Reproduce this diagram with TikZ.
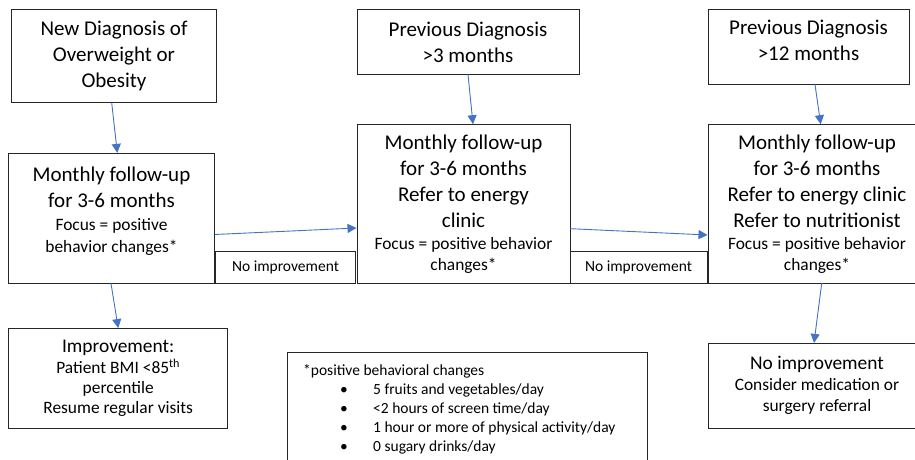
\documentclass[tikz,border=0pt]{standalone}
\usepackage{fontspec}
\setmainfont{Carlito}
\usepackage{tikz}
\usetikzlibrary{arrows.meta,positioning}
\definecolor{flowblue}{RGB}{68,114,196}
\newcommand{\bigsz}{\fontsize{21}{26}\selectfont}
\newcommand{\midsz}{\fontsize{19.4}{21}\selectfont}
\newcommand{\smallsz}{\fontsize{17.4}{20.7}\selectfont}
\newcommand{\notesz}{\fontsize{15.5}{19}\selectfont}

\begin{document}
\begin{tikzpicture}[x=1pt,y=-1pt,
    box/.style={draw=black!85,line width=0.9pt,inner sep=0pt,align=center},
    flow/.style={flowblue,line width=0.9pt,-{Triangle[length=9pt,width=9pt]}}]
    \useasboundingbox (0,0) rectangle (915,460);
    % entry boxes
    \node[box,font=\bigsz,minimum width=205.7pt,minimum height=92.6pt] (newdx) at (114,56) {New Diagnosis of\\Overweight or\\Obesity};
    \node[box,font=\bigsz,minimum width=222pt,minimum height=64.3pt] (prevthree) at (468,41.9) {Previous Diagnosis\\>3 months};
    \node[box,minimum width=201pt,minimum height=74.7pt] (prevtwelve) at (808.5,46.7) {};
    \node[font=\bigsz,align=center] (prevtwelvetxt) at (808.5,40.5) {Previous Diagnosis\\>12 months};
    % follow-up boxes
    \node[box,minimum width=205.6pt,minimum height=129.7pt] (followA) at (111.5,218.2) {};
    \node[font=\bigsz,align=center] (followAtxt) at (111.5,211) {Monthly follow-up\\for 3-6 months\\[-3pt]
        \smallsz Focus = positive\\[-4pt]\smallsz behavior changes*};
    \node[box,font=\bigsz,minimum width=213pt,minimum height=158.3pt] (followB) at (463.5,203.8) {Monthly follow-up\\for 3-6 months\\Refer to energy\\clinic\\[-4pt]
        \smallsz Focus = positive behavior\\[-5pt]\smallsz changes*};
    \node[box,font=\bigsz,minimum width=218pt,minimum height=158.3pt] (followC) at (817,203.8) {Monthly follow-up\\for 3-6 months\\Refer to energy clinic\\Refer to nutritionist\\[-4pt]
        \smallsz Focus = positive behavior\\[-5pt]\smallsz changes*};
    % no improvement tags
    \node[box,font=\notesz,minimum width=139.6pt,minimum height=32pt] (noimpA) at (285.5,267) {No improvement};
    \node[box,font=\notesz,minimum width=137pt,minimum height=31.3pt] (noimpB) at (638.5,267.3) {No improvement};
    % outcome boxes
    \node[box,font=\midsz,minimum width=219pt,minimum height=100pt] (improve) at (118.2,378.5) {Improvement:\\
        \smallsz Patient BMI <85\textsuperscript{th}\\[-1pt]\smallsz percentile\\[-1pt]\smallsz Resume regular visits};
    \node[box,font=\midsz,minimum width=218pt,minimum height=84.7pt] (refer) at (817,385.7) {No improvement\\
        \smallsz Consider medication or\\\smallsz surgery referral};
    % footnote
    \node[box,anchor=north west,minimum width=359.4pt,minimum height=130pt] (note) at (287.3,351.7) {};
    \node[font=\notesz,anchor=north west,align=left,inner sep=0pt] (notetxt) at (303,364.5) {*positive behavioral changes\\
        \makebox[70pt][l]{\hspace{37pt}\textbullet}5 fruits and vegetables/day\\
        \makebox[70pt][l]{\hspace{37pt}\textbullet}<2 hours of screen time/day\\
        \makebox[70pt][l]{\hspace{37pt}\textbullet}1 hour or more of physical activity/day\\
        \makebox[70pt][l]{\hspace{37pt}\textbullet}0 sugary drinks/day};
    % arrows
    \draw[flow] ([xshift=-2.3pt]newdx.south) -- ([xshift=5.8pt]followA.north);
    \draw[flow] ([xshift=-0.5pt]followA.south) -- (improve.north);
    \draw[flow] ([yshift=-16.3pt]followA.east) -- ([yshift=-24.2pt]followB.west);
    \draw[flow] (prevthree.south) -- ([xshift=9.5pt]followB.north);
    \draw[flow] ([yshift=-24.9pt]followB.east) -- ([yshift=-31.2pt]followC.west);
    \draw[flow] ([xshift=6.5pt]prevtwelve.south) -- ([xshift=3.7pt]followC.north);
    \draw[flow] ([xshift=4.7pt]followC.south) -- ([xshift=-3pt]refer.north);
\end{tikzpicture}
\end{document}
